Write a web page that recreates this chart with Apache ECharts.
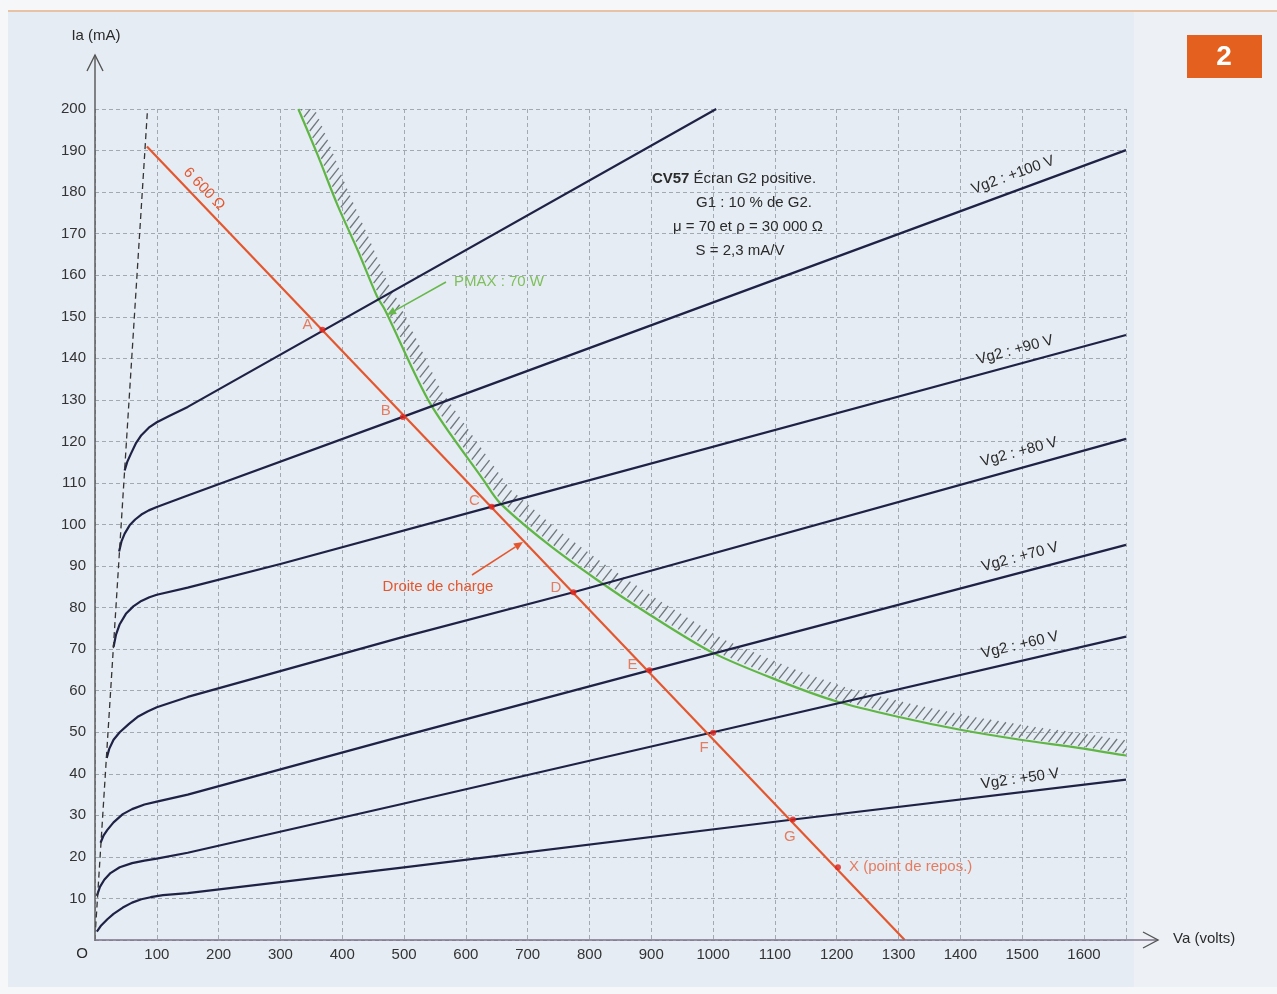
<!DOCTYPE html>
<html>
<head>
<meta charset="utf-8">
<script src="https://cdn.jsdelivr.net/npm/echarts/dist/echarts.min.js"></script>
<style>
  html, body { margin: 0; padding: 0; background: #f4f6f8; }
  #tube { width: 1277px; height: 994px; }
</style>
</head>
<body>
<div id="tube"></div>
<script>
// CV57 : Ia (mA) en fonction de Va (V), écran G2 positive
var curveTop   = [[48,113],[52,115],[58,117],[66,119.5],[75,121.5],[87,123.3],[100,124.6],[120,126.1],[150,128.3],[1005,200]];
var curveVg100 = [[39,93.5],[43,96],[48,97.8],[56,99.8],[65,101.2],[75,102.4],[87,103.4],[100,104.2],[125,105.6],[150,107],[498,125.9],[1668,190.1]];
var curveVg90  = [[30,70.5],[34,73.5],[40,76],[50,78.5],[62,80.3],[75,81.6],[88,82.5],[100,83.1],[150,84.8],[300,90.5],[642,104.3],[1668,145.6]];
var curveVg80  = [[19,43.8],[23,46],[30,48.2],[40,50],[55,52],[70,53.8],[85,55],[100,56],[150,58.5],[493,72.7],[774,83.7],[1668,120.6]];
var curveVg70  = [[9,23.4],[14,25.2],[20,26.5],[30,28.3],[45,30.3],[60,31.5],[80,32.6],[100,33.3],[150,35],[493,48.9],[897,64.9],[1668,95.1]];
var curveVg60  = [[3,10.6],[8,12.8],[15,14.5],[25,16.1],[40,17.5],[60,18.5],[80,19.1],[100,19.6],[150,21],[493,32.6],[1000,50],[1668,73]];
var curveVg50  = [[3,2],[10,3.5],[20,5],[30,6.3],[45,7.8],[60,9],[75,9.8],[90,10.3],[110,10.8],[150,11.3],[500,17.5],[1130,29],[1668,38.6]];

var pmaxVa = [329,360,392,425,456,469,542,628,655,731,812,893,1000,1108,1200,1297,1400,1497,1594,1668];
var pmaxIa = [200,189,177,166,155,151.7,129.2,110.8,105.2,95.5,86.7,78.7,69.1,62.3,57.4,53.8,50.6,48.2,46.2,44.4];

var kneeLine = [[1,3],[85,200]];
var loadLine = [[84,191],[1310,0]];

var pointNames = ['A','B','C','D','E','F','G','X (point de repos.)'];
var pointVa = [368,498,642,774,897,1000,1129,1202];
var pointIa = [146.9,125.9,104.3,83.7,64.9,49.9,29,17.5];

var vaMax = 1668, iaMax = 200;

var FONT = '"Liberation Sans", Arial, sans-serif';
var ORANGE = '#e4572e';
var NAVY = '#1f2145';

var chart = echarts.init(document.getElementById('tube'));

function curve(name, data) {
    return {
        name: name, type: 'line', data: data, showSymbol: false, smooth: false,
        lineStyle: { color: NAVY, width: 2.2, join: 'round' }, z: 4, silent: true
    };
}

// hachures le long de la courbe PMAX
function renderHatch(params, api) {
    var pts = pmaxVa.map(function (v, i) { return api.coord([v, pmaxIa[i]]); });
    var children = [];
    var step = 7.5, len = 15, ang = 52 * Math.PI / 180;
    var carry = 3;
    for (var i = 1; i < pts.length; i++) {
        var x0 = pts[i-1][0], y0 = pts[i-1][1], x1 = pts[i][0], y1 = pts[i][1];
        var seg = Math.sqrt((x1-x0)*(x1-x0) + (y1-y0)*(y1-y0));
        var d = carry;
        while (d <= seg) {
            var t = d / seg;
            var x = x0 + (x1-x0)*t + 1.5, y = y0 + (y1-y0)*t - 1.5;
            children.push({
                type: 'line',
                shape: { x1: x, y1: y, x2: x + len*Math.cos(ang), y2: y - len*Math.sin(ang) },
                style: { stroke: '#6f777c', lineWidth: 1.3 }
            });
            d += step;
        }
        carry = d - seg;
    }
    return { type: 'group', children: children };
}

var labelPos = {
    'A': { position: 'left', offset: [-2, -5] },
    'B': { position: 'left', offset: [-4, -6] },
    'C': { position: 'left', offset: [-4, -6] },
    'D': { position: 'left', offset: [-4, -4] },
    'E': { position: 'left', offset: [-4, -5] },
    'F': { position: 'bottom', offset: [-9, 0] },
    'G': { position: 'bottom', offset: [-3, 2] },
    'X (point de repos.)': { position: 'right', offset: [3, 0] }
};
var pointData = pointNames.map(function (n, i) {
    return { name: n, value: [pointVa[i], pointIa[i]], label: labelPos[n] };
});

function arrow(x1, y1, x2, y2, color) {
    var a = Math.atan2(y2 - y1, x2 - x1), h = 9, w = 4;
    var bx = x2 - h*Math.cos(a), by = y2 - h*Math.sin(a);
    return [
        { type: 'line', shape: { x1: x1, y1: y1, x2: bx, y2: by }, style: { stroke: color, lineWidth: 1.5 }, z: 10 },
        { type: 'polygon', shape: { points: [[x2, y2], [bx - w*Math.sin(a), by + w*Math.cos(a)], [bx + w*Math.sin(a), by - w*Math.cos(a)]] },
          style: { fill: color }, z: 10 }
    ];
}

function txt(text, x, y, opt) {
    opt = opt || {};
    return {
        type: 'text', x: x, y: y, rotation: (opt.rot || 0) * Math.PI / 180, z: 12,
        style: {
            text: text, fill: opt.color || '#2a2a2a', font: (opt.weight || 'normal') + ' ' + (opt.size || 15) + 'px ' + FONT,
            align: opt.align || 'center', verticalAlign: 'middle', rich: opt.rich
        }
    };
}

var graphics = [
    // fond de page
    { type: 'rect', shape: { x: 0, y: 0, width: 1277, height: 994 }, style: { fill: '#f6f7f9' }, z: -10 },
    { type: 'rect', shape: { x: 8, y: 11, width: 1269, height: 976 }, style: { fill: '#e5ecf3' }, z: -9 },
    { type: 'rect', shape: { x: 1134, y: 11, width: 143, height: 976 }, style: { fill: '#edf1f5' }, z: -9 },
    { type: 'line', shape: { x1: 8, y1: 11, x2: 1277, y2: 11 }, style: { stroke: '#e8c2a4', lineWidth: 2 }, z: -8 },
    // axes avec flèches
    { type: 'line', shape: { x1: 95, y1: 941, x2: 95, y2: 55 }, style: { stroke: '#555', lineWidth: 1.4 }, z: 9 },
    { type: 'polyline', shape: { points: [[87, 71], [95, 55], [103, 71]] }, style: { stroke: '#555', lineWidth: 1.4, fill: null }, z: 9 },
    { type: 'line', shape: { x1: 95, y1: 940, x2: 1158, y2: 940 }, style: { stroke: '#7d7088', lineWidth: 1.4 }, z: 9 },
    { type: 'polyline', shape: { points: [[1143, 932], [1158, 940], [1143, 948]] }, style: { stroke: '#555', lineWidth: 1.4, fill: null }, z: 9 },
    txt('Ia (mA)', 96, 36),
    txt('Va (volts)', 1173, 939, { align: 'left' }),
    txt('O', 82, 954),
    // encart
    { type: 'rect', shape: { x: 1187, y: 35, width: 75, height: 43 }, style: { fill: '#e4601f' }, z: 10 },
    txt('2', 1224, 57, { color: '#ffffff', size: 28, weight: 'bold' }),
    // caractéristiques
    txt('{b|CV57} Écran G2 positive.', 734, 179, { rich: { b: { font: 'bold 15px ' + FONT, fill: '#2a2a2a' } } }),
    txt('G1 : 10 % de G2.', 754, 203),
    txt('μ = 70 et ρ = 30 000 Ω', 748, 227),
    txt('S = 2,3 mA/V', 740, 251),
    txt('PMAX : 70 W', 499, 282, { color: '#7fbf5c' }),
    txt('6 600 Ω', 204, 189, { color: ORANGE, rot: -46 }),
    txt('Droite de charge', 438, 587, { color: ORANGE }),
    // étiquettes des courbes
    txt('Vg2 : +100 V', 1013, 175, { rot: 20 }),
    txt('Vg2 : +90 V', 1015, 350, { rot: 15 }),
    txt('Vg2 : +80 V', 1019, 452, { rot: 15 }),
    txt('Vg2 : +70 V', 1020, 557, { rot: 15 }),
    txt('Vg2 : +60 V', 1020, 645, { rot: 13 }),
    txt('Vg2 : +50 V', 1020, 779, { rot: 8 })
].concat(arrow(446, 282, 387, 315, '#67b84a'))
 .concat(arrow(472, 575, 523, 542, ORANGE));

chart.setOption({
    animation: false,
    backgroundColor: 'transparent',
    grid: { left: 95, right: 1277 - 95 - 1031, top: 109, bottom: 994 - 940 },
    xAxis: {
        type: 'value', min: 0, max: vaMax, interval: 100,
        axisLine: { show: false }, axisTick: { show: false },
        axisLabel: {
            color: '#333', fontSize: 15, fontFamily: FONT, margin: 7, showMaxLabel: false,
            formatter: function (v) { return v === 0 ? '' : v; }
        },
        splitLine: { show: true, lineStyle: { color: '#a3a9b0', width: 1, type: [4, 3] } }
    },
    yAxis: {
        type: 'value', min: 0, max: iaMax, interval: 10,
        axisLine: { show: false }, axisTick: { show: false },
        axisLabel: {
            color: '#333', fontSize: 15, fontFamily: FONT, margin: 9,
            formatter: function (v) { return v === 0 ? '' : v; }
        },
        splitLine: { show: true, lineStyle: { color: '#a3a9b0', width: 1, type: [4, 3] } }
    },
    graphic: graphics,
    series: [
        { type: 'custom', renderItem: renderHatch, data: [[pmaxVa[0], pmaxIa[0]]], clip: true, silent: true, z: 2 },
        {
            name: 'PMAX', type: 'line', data: pmaxVa.map(function (v, i) { return [v, pmaxIa[i]]; }),
            showSymbol: false, smooth: 0.3, lineStyle: { color: '#5fb644', width: 2.2 }, z: 3, silent: true
        },
        curve('top', curveTop),
        curve('+100 V', curveVg100),
        curve('+90 V', curveVg90),
        curve('+80 V', curveVg80),
        curve('+70 V', curveVg70),
        curve('+60 V', curveVg60),
        curve('+50 V', curveVg50),
        {
            name: 'knee', type: 'line', data: kneeLine, showSymbol: false,
            lineStyle: { color: '#333', width: 1.3, type: [6, 4] }, z: 5, silent: true
        },
        {
            name: 'charge', type: 'line', data: loadLine, showSymbol: false,
            lineStyle: { color: ORANGE, width: 2.2 }, z: 6, silent: true
        },
        {
            name: 'points', type: 'scatter', data: pointData, symbolSize: 6, z: 7,
            itemStyle: { color: '#e0231b' },
            label: { show: true, formatter: '{b}', color: '#e4603c', fontSize: 15, fontFamily: FONT }
        }
    ]
});
</script>
</body>
</html>
